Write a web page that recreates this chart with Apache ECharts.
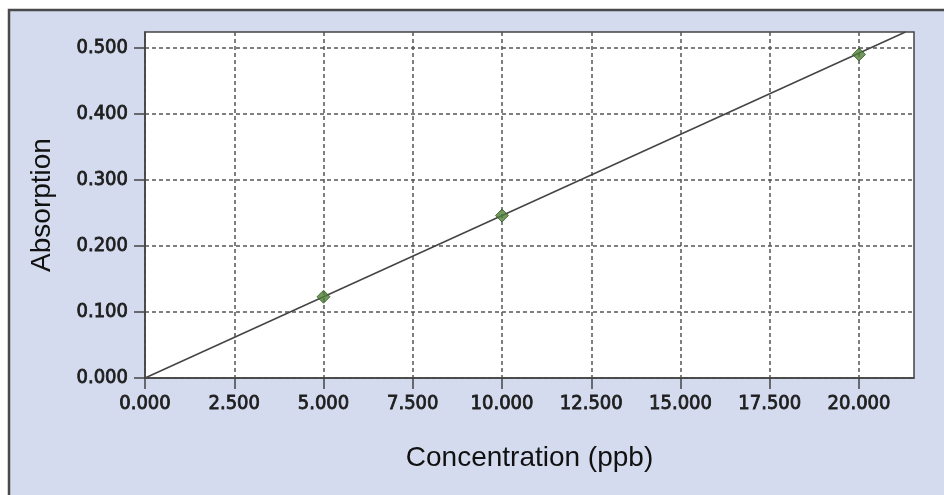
<!DOCTYPE html>
<html><head><meta charset="utf-8">
<script src="https://cdn.jsdelivr.net/npm/echarts@6/dist/echarts.min.js"></script>
<style>html,body{margin:0;padding:0;background:#ffffff;}#c{width:944px;height:495px;}</style>
</head><body><div id="c"></div>
<script>
const concentration = [5, 10, 20];
const absorption = [0.123, 0.246, 0.490];
const fitX = [0, 21.3];
const fitY = [0, 0.524];
const xTicks = [0, 2.5, 5, 7.5, 10, 12.5, 15, 17.5, 20];
const yTicks = [0, 0.1, 0.2, 0.3, 0.4, 0.5];
const xName = 'Concentration (ppb)';
const yName = 'Absorption';

const chart = echarts.init(document.getElementById('c'), null, {renderer: 'canvas'});
const lblFont = {fontFamily: '"DejaVu Sans Condensed", "DejaVu Sans", sans-serif', fontSize: 20, color: '#1e1e1e',
  textBorderColor: '#1e1e1e', textBorderWidth: 0.8};
const axisCol = '#444';
chart.setOption({
  animation: false,
  graphic: [{type: 'rect', z: -10, shape: {x: 9, y: 10, width: 960, height: 500},
    style: {fill: '#d5dbef', stroke: '#4a4a4a', lineWidth: 2.5}}],
  grid: {left: 145, top: 32, right: 30, bottom: 117, show: true, backgroundColor: '#fff', borderColor: axisCol, borderWidth: 1.5},
  xAxis: {
    type: 'value', min: 0, max: 21.54, interval: 2.5,
    name: xName, nameLocation: 'middle', nameGap: 66,
    nameTextStyle: {fontFamily: '"Liberation Sans", Arial, sans-serif', fontSize: 28, color: '#111'},
    axisLine: {show: true, lineStyle: {color: axisCol, width: 1.5}},
    axisTick: {show: true, length: 11, customValues: xTicks, lineStyle: {color: axisCol, width: 1.5}},
    axisLabel: Object.assign({customValues: xTicks, margin: 16, formatter: v => v.toFixed(3)}, lblFont),
    splitLine: {show: true, lineStyle: {color: '#555', width: 1.5, type: [4, 3]}}
  },
  yAxis: {
    type: 'value', min: 0, max: 0.524, interval: 0.1,
    name: yName, nameLocation: 'middle', nameGap: 89, nameRotate: 90,
    nameTextStyle: {fontFamily: '"Liberation Sans", Arial, sans-serif', fontSize: 28, color: '#111'},
    axisLine: {show: true, lineStyle: {color: axisCol, width: 1.5}},
    axisTick: {show: true, length: 11, customValues: yTicks, lineStyle: {color: axisCol, width: 1.5}},
    axisLabel: Object.assign({customValues: yTicks, margin: 17, formatter: v => v.toFixed(3)}, lblFont),
    splitLine: {show: true, lineStyle: {color: '#555', width: 1.5, type: [4, 3]}}
  },
  series: [
    {type: 'line', data: fitX.map((x, i) => [x, fitY[i]]), symbol: 'none', clip: true,
     lineStyle: {color: '#444', width: 1.5}, z: 3},
    {type: 'scatter', data: concentration.map((x, i) => [x, absorption[i]]), symbol: 'diamond', symbolSize: 13,
     itemStyle: {color: '#4f7d37', borderColor: '#2f5a22', borderWidth: 1}, z: 4}
  ]
});
</script></body></html>
